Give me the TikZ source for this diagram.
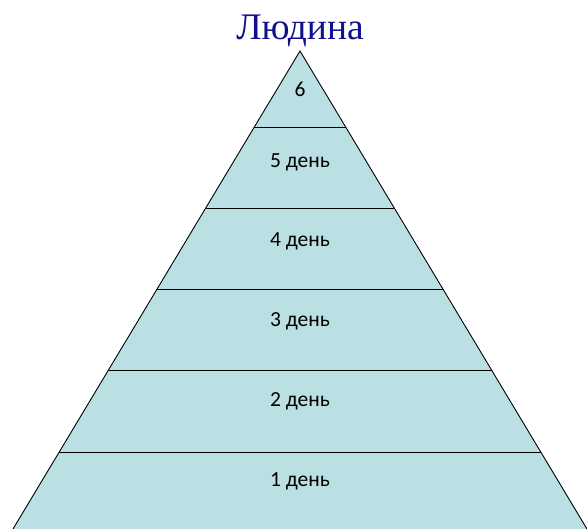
\documentclass[tikz,border=0pt]{standalone}
\usepackage{fontspec}
\setmainfont{Carlito}
\newfontfamily\titlefont{Liberation Serif}
\definecolor{pyrfill}{RGB}{187,224,227}
\definecolor{titleblue}{RGB}{16,16,140}
\begin{document}
\begin{tikzpicture}[x=1pt,y=1pt,
  band/.style={draw=black,line width=0.9pt},
  lbl/.style={font=\fontsize{21.5}{24}\selectfont,text=black,inner sep=0pt},
  ttl/.style={font=\titlefont\fontsize{37.5}{42}\selectfont,text=titleblue,inner sep=0pt}]
\useasboundingbox (0,0) rectangle (587,529);
\begin{scope}
\clip (0,0) rectangle (587,529);
\coordinate (apex) at (300,478);
\coordinate (bl) at (13,0);
\coordinate (br) at (587,0);
\fill[pyrfill] (apex) -- (bl) -- (br) -- cycle;
\draw[line width=0.9pt] (bl) -- (apex) -- (br);
\coordinate (l1) at (254.4,402); \coordinate (r1) at (345.6,402);
\coordinate (l2) at (205.7,321); \coordinate (r2) at (394.3,321);
\coordinate (l3) at (157.1,240); \coordinate (r3) at (442.9,240);
\coordinate (l4) at (108.5,159); \coordinate (r4) at (491.5,159);
\coordinate (l5) at (59.2,77);   \coordinate (r5) at (540.8,77);
\draw[band] (l1) -- (r1);
\draw[band] (l2) -- (r2);
\draw[band] (l3) -- (r3);
\draw[band] (l4) -- (r4);
\draw[band] (l5) -- (r5);
\end{scope}
\node[ttl] (title) at (300,498) {Людина};
\node[lbl] (d6) at (300,440) {6};
\node[lbl] (d5) at (300,367) {5 день};
\node[lbl] (d4) at (300,288) {4 день};
\node[lbl] (d3) at (300,208) {3 день};
\node[lbl] (d2) at (300,128) {2 день};
\node[lbl] (d1) at (300,48) {1 день};
\end{tikzpicture}
\end{document}
